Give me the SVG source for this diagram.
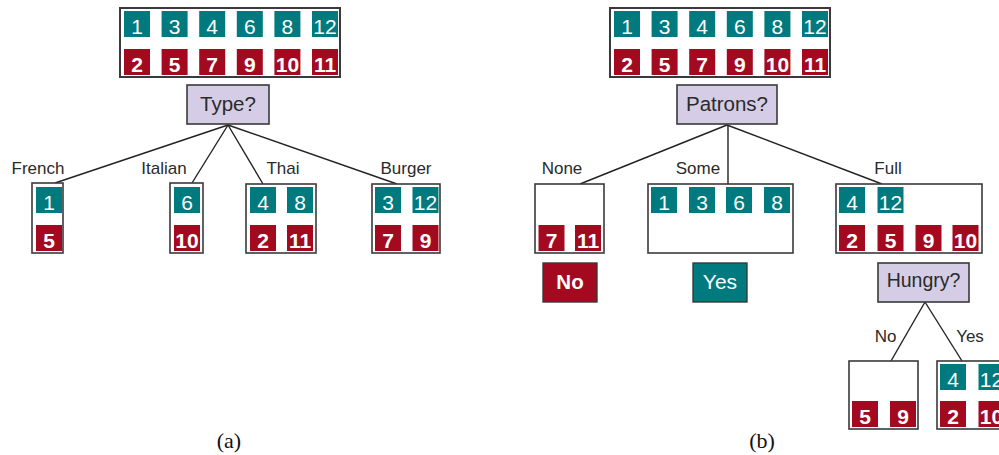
<svg xmlns="http://www.w3.org/2000/svg" width="999" height="455" viewBox="0 0 999 455">
<style>
.box{fill:#fff;stroke:#3a3a3a;stroke-width:1.6}
.q{fill:#d5cde6;stroke:#3a3a3a;stroke-width:1.6}
.t{fill:#007a7e}
.r{fill:#a30a20}
.nt{font-family:"Liberation Sans",Arial,sans-serif;font-size:21px;fill:#fff;text-anchor:middle}
.nr{font-family:"Liberation Sans",Arial,sans-serif;font-size:21px;font-weight:bold;fill:#fff;text-anchor:middle}
.lab{font-family:"Liberation Sans",Arial,sans-serif;font-size:17px;fill:#2a2a2a;text-anchor:middle}
.qt{font-family:"Liberation Sans",Arial,sans-serif;font-size:20.5px;fill:#2a2a2a;text-anchor:middle}
.cap{font-family:"Liberation Serif","Times New Roman",serif;font-size:22px;fill:#111;text-anchor:middle}
.ln{stroke:#222;stroke-width:1.4;fill:none}
</style>
<defs>
<g id="T"><rect class="t" width="26" height="26"/></g>
<g id="R"><rect class="r" width="26" height="26"/></g>
</defs>

<g id="connectors">
<line class="ln" x1="228" y1="125" x2="55" y2="183"/>
<line class="ln" x1="228" y1="125" x2="192" y2="183"/>
<line class="ln" x1="228" y1="125" x2="263" y2="184"/>
<line class="ln" x1="228" y1="125" x2="397" y2="184"/>
<line class="ln" x1="727" y1="125" x2="580" y2="184"/>
<line class="ln" x1="728" y1="125" x2="728" y2="184"/>
<line class="ln" x1="727" y1="125" x2="882" y2="184"/>
<line class="ln" x1="925" y1="302" x2="891" y2="361"/>
<line class="ln" x1="925" y1="302" x2="962" y2="361"/>
</g>

<g id="rootA">
<rect class="box" x="120" y="8" width="220" height="69" style="stroke-width:2"/>
<use href="#T" x="124" y="11"/><use href="#T" x="161.6" y="11"/><use href="#T" x="199.2" y="11"/><use href="#T" x="236.8" y="11"/><use href="#T" x="274.4" y="11"/><use href="#T" x="312" y="11"/>
<use href="#R" x="124" y="49"/><use href="#R" x="161.6" y="49"/><use href="#R" x="199.2" y="49"/><use href="#R" x="236.8" y="49"/><use href="#R" x="274.4" y="49"/><use href="#R" x="312" y="49"/>
<text class="nt" x="137" y="33.5">1</text><text class="nt" x="174.6" y="33.5">3</text><text class="nt" x="212.2" y="33.5">4</text><text class="nt" x="249.8" y="33.5">6</text><text class="nt" x="287.4" y="33.5">8</text><text class="nt" x="325" y="33.5">12</text>
<text class="nr" x="137" y="71.5">2</text><text class="nr" x="174.6" y="71.5">5</text><text class="nr" x="212.2" y="71.5">7</text><text class="nr" x="249.8" y="71.5">9</text><text class="nr" x="287.4" y="71.5">10</text><text class="nr" x="325" y="71.5">11</text>
</g>

<g id="typeQ">
<rect class="q" x="187" y="85" width="82" height="39"/>
<text class="qt" x="228" y="110.5">Type?</text>
</g>

<g id="french">
<text class="lab" x="38" y="174">French</text>
<rect class="box" x="32" y="183" width="31" height="70"/>
<use href="#T" x="36" y="187"/><use href="#R" x="36" y="225"/>
<text class="nt" x="49" y="209.5">1</text><text class="nr" x="49" y="247.5">5</text>
</g>

<g id="italian">
<text class="lab" x="164" y="174">Italian</text>
<rect class="box" x="170" y="183" width="33" height="70"/>
<use href="#T" x="174" y="187"/><use href="#R" x="174" y="225"/>
<text class="nt" x="187" y="209.5">6</text><text class="nr" x="187" y="247.5">10</text>
</g>

<g id="thai">
<text class="lab" x="283" y="174">Thai</text>
<rect class="box" x="246" y="184" width="70" height="69"/>
<use href="#T" x="250" y="187"/><use href="#T" x="287" y="187"/><use href="#R" x="250" y="225"/><use href="#R" x="287" y="225"/>
<text class="nt" x="263" y="209.5">4</text><text class="nt" x="300" y="209.5">8</text>
<text class="nr" x="263" y="247.5">2</text><text class="nr" x="300" y="247.5">11</text>
</g>

<g id="burger">
<text class="lab" x="406" y="174">Burger</text>
<rect class="box" x="372" y="184" width="68" height="69"/>
<use href="#T" x="375" y="187"/><use href="#T" x="412.5" y="187"/><use href="#R" x="375" y="225"/><use href="#R" x="412.5" y="225"/>
<text class="nt" x="388" y="209.5">3</text><text class="nt" x="425.5" y="209.5">12</text>
<text class="nr" x="388" y="247.5">7</text><text class="nr" x="425.5" y="247.5">9</text>
</g>

<g id="rootB">
<rect class="box" x="610" y="8" width="220" height="69" style="stroke-width:2"/>
<use href="#T" x="614" y="11"/><use href="#T" x="651.6" y="11"/><use href="#T" x="689.2" y="11"/><use href="#T" x="726.8" y="11"/><use href="#T" x="764.4" y="11"/><use href="#T" x="802" y="11"/>
<use href="#R" x="614" y="49"/><use href="#R" x="651.6" y="49"/><use href="#R" x="689.2" y="49"/><use href="#R" x="726.8" y="49"/><use href="#R" x="764.4" y="49"/><use href="#R" x="802" y="49"/>
<text class="nt" x="627" y="33.5">1</text><text class="nt" x="664.6" y="33.5">3</text><text class="nt" x="702.2" y="33.5">4</text><text class="nt" x="739.8" y="33.5">6</text><text class="nt" x="777.4" y="33.5">8</text><text class="nt" x="815" y="33.5">12</text>
<text class="nr" x="627" y="71.5">2</text><text class="nr" x="664.6" y="71.5">5</text><text class="nr" x="702.2" y="71.5">7</text><text class="nr" x="739.8" y="71.5">9</text><text class="nr" x="777.4" y="71.5">10</text><text class="nr" x="815" y="71.5">11</text>
</g>

<g id="patronsQ">
<rect class="q" x="677" y="85" width="100" height="39"/>
<text class="qt" x="727" y="110.5">Patrons?</text>
</g>

<g id="none">
<text class="lab" x="562" y="174">None</text>
<rect class="box" x="535" y="184" width="69" height="69"/>
<use href="#R" x="538.5" y="225"/><use href="#R" x="575" y="225"/>
<text class="nr" x="551.5" y="247.5">7</text><text class="nr" x="588" y="247.5">11</text>
</g>

<g id="some">
<text class="lab" x="698" y="174">Some</text>
<rect class="box" x="648" y="184" width="145" height="69"/>
<use href="#T" x="651" y="187"/><use href="#T" x="689" y="187"/><use href="#T" x="726" y="187"/><use href="#T" x="764" y="187"/>
<text class="nt" x="664" y="209.5">1</text><text class="nt" x="702" y="209.5">3</text><text class="nt" x="739" y="209.5">6</text><text class="nt" x="777" y="209.5">8</text>
</g>

<g id="full">
<text class="lab" x="888" y="174">Full</text>
<rect class="box" x="836" y="184" width="146" height="69"/>
<use href="#T" x="839" y="187"/><use href="#T" x="877.5" y="187"/>
<use href="#R" x="839" y="225"/><use href="#R" x="877.5" y="225"/><use href="#R" x="915.5" y="225"/><use href="#R" x="952.5" y="225"/>
<text class="nt" x="852" y="209.5">4</text><text class="nt" x="890.5" y="209.5">12</text>
<text class="nr" x="852" y="247.5">2</text><text class="nr" x="890.5" y="247.5">5</text><text class="nr" x="928.5" y="247.5">9</text><text class="nr" x="965.5" y="247.5">10</text>
</g>

<g id="leafNo">
<rect x="543" y="263" width="54" height="39" style="fill:#a30a20;stroke:#3a3a3a;stroke-width:1.4"/>
<text class="nr" x="570" y="288.5" style="font-size:20.5px">No</text>
</g>

<g id="leafYes">
<rect x="693" y="263" width="54" height="39" style="fill:#007a7e;stroke:#3a3a3a;stroke-width:1.4"/>
<text class="nt" x="720" y="288.5" style="font-size:21px">Yes</text>
</g>

<g id="hungryQ">
<rect class="q" x="878" y="263" width="91" height="39"/>
<text class="qt" x="923.5" y="287" style="font-size:19.5px">Hungry?</text>
</g>

<g id="hNo">
<text class="lab" x="885.5" y="342">No</text>
<rect class="box" x="849" y="361" width="69" height="68"/>
<use href="#R" x="852" y="401"/><use href="#R" x="890" y="401"/>
<text class="nr" x="865" y="423.5">5</text><text class="nr" x="903" y="423.5">9</text>
</g>

<g id="hYes">
<text class="lab" x="970" y="342">Yes</text>
<rect class="box" x="937" y="361" width="72" height="68"/>
<use href="#T" x="940" y="364"/><use href="#T" x="978.5" y="364"/>
<use href="#R" x="940" y="401"/><use href="#R" x="978.5" y="401"/>
<text class="nt" x="953" y="386.5">4</text><text class="nt" x="991.5" y="386.5">12</text>
<text class="nr" x="953" y="423.5">2</text><text class="nr" x="991.5" y="423.5">10</text>
</g>

<g id="captions">
<text class="cap" x="229" y="448">(a)</text>
<text class="cap" x="762" y="448">(b)</text>
</g>
</svg>
